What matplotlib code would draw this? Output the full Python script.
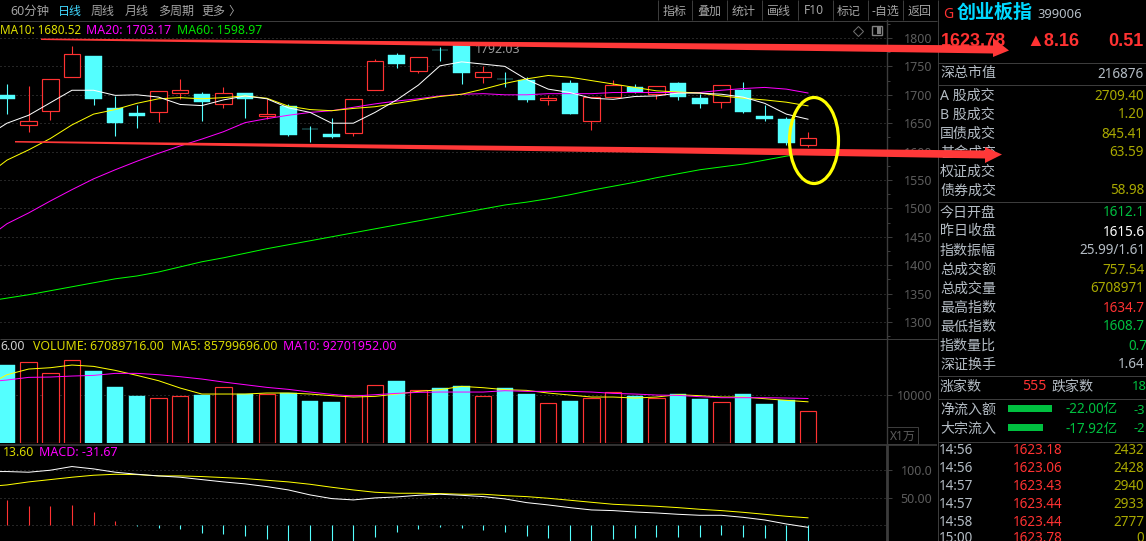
import matplotlib
matplotlib.use("Agg")
import matplotlib.pyplot as plt
from matplotlib.patches import Polygon, Ellipse, Rectangle
from matplotlib.ticker import MultipleLocator
import numpy as np

plt.rcParams['font.family'] = ['Noto Sans', 'Noto Sans CJK SC', 'DejaVu Sans']

# ---- data ----
opens  = [1700,1646,1672,1732,1768,1677,1668,1670,1704,1701,1683,1703,1662,1680,1640,1631,1632,1709,1770,1742,1779,1791,1732,1728,1726,1691,1721,1654,1696,1714,1701,1721,1694,1688,1708,1663,1657,1612.17]
highs  = [1719,1715,1727,1786,1768,1698,1682,1706,1728,1705,1714,1703,1693,1684,1645,1659,1692,1763,1774,1766,1784,1792.03,1751,1740,1731,1700,1726,1696,1726,1719,1715,1723,1701,1718,1723,1682,1661,1634.7]
lows   = [1666,1635,1656,1732,1682,1627,1642,1652,1693,1654,1677,1659,1657,1628,1617,1624,1628,1709,1747,1738,1760,1719,1721,1714,1687,1682,1666,1638,1696,1703,1693,1691,1677,1677,1668,1654,1611,1608.7]
closes = [1693,1654,1727,1771,1693,1650,1663,1706,1708,1687,1703,1693,1667,1629,1639,1626,1692,1760,1754,1766,1778,1739,1740,1727,1691,1694,1666,1696,1717,1705,1715,1696,1684,1718,1670,1657,1615,1623.78]
# the moving averages start one session before the first visible candle
ma5_line  = [1626,1650,1664,1686,1708,1708,1699,1700,1696,1683,1681,1691,1698,1693,1677,1669,1650,1650,1669,1691,1717,1751,1758,1754,1750,1727,1710,1704,1694,1692,1697,1698,1703,1703,1701,1696,1685,1666,1657]
ma10_line = [1556,1585,1603,1623,1647,1666,1674,1685,1693,1695,1693,1695,1698,1694,1680,1674,1672,1676,1679,1685,1691,1697,1701,1710,1720,1728,1734,1731,1725,1719,1713,1707,1705,1703,1698,1694,1691,1687,1680.52]
ma20_line = [1445,1473,1492,1513,1533,1552,1568,1583,1597,1610,1622,1635,1651,1658,1664,1669,1672,1678,1684,1689,1693,1698,1701,1702,1700,1700,1702,1702,1702,1704,1704,1704,1704,1704,1708,1711,1713,1710,1703.17]
ma60_line = [1336,1342,1348,1355,1362,1369,1376,1381,1388,1397,1406,1413,1421,1429,1436,1443,1450,1457,1464,1471,1478,1485,1492,1499,1506,1511,1517,1524,1532,1539,1546,1554,1561,1568,1573,1578,1585,1592,1598.97]
price_ticks = [1300,1350,1400,1450,1500,1550,1600,1650,1700,1750,1800]

volumes = [16309,16864,14574,17281,15060,11729,9855,9369,9855,10063,11659,10202,10202,10410,8814,8606,9994,12076,12978,11035,11520,11937,9785,11520,10271,8328,8814,9369,10618,9785,9369,10271,9230,8536,10271,8189,9022,6709]
vol_ma5  = [11798,14227,15407,15684,16240,15962,15129,14088,12978,11451,10202,10202,10202,10410,10410,10202,9855,9577,9716,10202,10757,11104,11798,11520,11104,10965,10410,9994,9577,9577,9369,9577,10063,9855,9577,9577,9230,8883,8580]
vol_ma10 = [12700,13117,13672,13741,13949,14088,14505,14505,14227,13811,13325,12700,12145,11590,11173,10618,10132,9785,10063,10341,10549,10618,10618,10618,10896,10757,10757,10757,10618,10341,10202,9994,9924,9647,9438,9438,9438,9369,9270]

dif = [97.6,97.6,96.4,100,106.7,102.4,96.4,92.7,89.7,87.3,83,78.8,75.2,70.3,64.2,55.2,48.5,46.1,49.7,51.5,54.5,56.4,54.5,52.1,47.9,41.2,37,32.1,27.9,26.7,24.2,22.4,20,18.2,18.2,14.5,9.7,2.4,-3.6]
dea = [70,73.3,78.8,83,87.3,90.9,92.7,92.1,89.7,89.7,88.5,86.7,84.8,81.8,78.8,74.5,69.1,64.2,60,58.2,58.2,57.6,56.4,56.4,53.9,52.1,49.1,45.5,41.8,38.2,36.4,34.5,32.1,29.1,26.7,23.6,20,16.4,13.6]
macd = [46,35,35,37,24,8,-2,-5,-7,-14,-16,-19,-25,-30,-31,-33,-35,-21,-12,-7,-3,-5,-8,-12,-19,-23,-29,-30,-25,-23,-21,-21,-21,-18,-21,-23,-31,-31.67]

left_rows = [("深总市值",73,"216876",1097,'grey'),("A 股成交",95,"2709.40",1094,'olive'),("B 股成交",114,"1.20",1118,'olive'),
    ("国债成交",133,"845.41",1101,'olive'),("基金成交",152,"63.59",1109,'olive'),("权证成交",171,"",1110,'olive'),
    ("债券成交",190,"58.98",1110,'olive'),("今日开盘",212,"1612.1",1103,'green'),("昨日收盘",231,"1615.6",1103,'white'),
    ("指数振幅",250,"25.99/1.61",1079,'grey'),("总成交额",269,"757.54",1102,'olive'),("总成交量",288,"6708971",1090,'olive'),
    ("最高指数",307,"1634.7",1103,'red'),("最低指数",326,"1608.7",1103,'green'),("指数量比",345,"0.7",1128,'green'),("深证换手",364,"1.64",1118,'grey')]
tick_times  = ["14:56","14:56","14:57","14:57","14:58","15:00"]
tick_prices = ["1623.18","1623.06","1623.43","1623.44","1623.44","1623.78"]
tick_vols   = ["2432","2428","2940","2933","2777","0"]

# ---- styling ----
W, H = 1146, 541
BG = '#000000'; RED = '#ff3232'; CYAN = '#54ffff'; AX = '#3c3c3c'; LBL = '#5c5c5c'
YEL = '#ffff00'; MAG = '#ff00ff'; GRN = '#00ff00'
COL = {'grey':'#b4bcc4','olive':'#a8a800','green':'#00c040','white':'#ffffff','red':'#ff3232'}
px = 0.72
n = len(closes); x = np.arange(n); x_ma = np.arange(n+1) - 1
XL = (-0.323, 40.65)
BW = 0.76

fig = plt.figure(figsize=(W/100, H/100), dpi=100, facecolor=BG)

def panel(top, bottom, ylim):
    ax = fig.add_axes([0, 1-bottom/H, 887/W, (bottom-top)/H], facecolor=BG)
    ax.set_xlim(*XL); ax.set_ylim(*ylim)
    for s in ('top','left','bottom'):
        ax.spines[s].set_visible(False)
    ax.spines['right'].set_color(AX); ax.spines['right'].set_linewidth(1.0)
    ax.set_xticks([])
    ax.yaxis.tick_right()
    ax.tick_params(axis='y', which='major', length=3.6, width=px, color=AX, labelcolor=LBL, labelsize=9.0, pad=29)
    ax.tick_params(axis='y', which='minor', length=1.8, width=px, color=AX)
    return ax

def finish(ax):
    for t in ax.get_yticklabels():
        t.set_ha('right')
    ax.grid(axis='y', which='major', color='#4a4a4a', lw=px, ls=(0,(1,3)), zorder=0)
    ax.set_axisbelow(True)

def hollow_bars(ax, lo, hi, up):
    for i in x:
        if up[i]:
            ax.add_patch(Rectangle((i-BW/2, lo[i]), BW, hi[i]-lo[i], fc=BG, ec=RED, lw=0.85, zorder=3))
        else:
            ax.add_patch(Rectangle((i-BW/2, lo[i]), BW, hi[i]-lo[i], fc=CYAN, ec=CYAN, lw=0.3, zorder=3))

def ma(ax, s, c):
    ax.plot(x_ma, s, color=c, lw=0.72, zorder=4)

# price
ax1 = panel(20, 338, (1271.8, 1831.7))
ax1.set_yticks(price_ticks); ax1.yaxis.set_minor_locator(MultipleLocator(25))
finish(ax1)
up = [closes[i] >= opens[i] for i in x]
ax1.vlines(x, lows, highs, colors=[RED if u else CYAN for u in up], lw=0.8, zorder=2)
hollow_bars(ax1, np.minimum(opens, closes), np.maximum(opens, closes), up)
for s, c in ((ma60_line,GRN),(ma20_line,MAG),(ma10_line,YEL),(ma5_line,'#ffffff')):
    ma(ax1, s, c)
ax1.text(21.6, 1780.6, "1792.03", color='#9a9a9a', fontsize=8.9, va='center', zorder=5)

# volume
ax2 = panel(338, 443, (0, 21875))
ax2.set_yticks([10000]); ax2.set_yticklabels(["10000"])
finish(ax2)
hollow_bars(ax2, np.zeros(n), volumes, up)
ma(ax2, vol_ma5, YEL)
ma(ax2, vol_ma10, MAG)

# macd
ax3 = panel(446, 541, (-28.5, 144))
ax3.set_yticks([50, 100]); ax3.set_yticklabels(["50.00", "100.0"])
ax3.spines['right'].set_linewidth(2.0)
finish(ax3)
ax3.axhline(0, color='#4a4a4a', lw=px, ls=(0,(1,3)), zorder=0)
ax3.vlines(x, 0, macd, colors=[RED if m > 0 else CYAN for m in macd], lw=0.8, zorder=3)
ma(ax3, dea, YEL)
ma(ax3, dif, '#ffffff')

# overlay in pixels
ov = fig.add_axes([0, 0, 1, 1], zorder=20); ov.set_xlim(0, W); ov.set_ylim(H, 0); ov.axis('off'); ov.patch.set_alpha(0)

def T(xp, yp, s, c, size=12, weight='normal', **kw):
    ov.text(xp, yp+1, s, color=c, fontsize=size*0.72, fontweight=weight, va='center', ha=kw.pop('ha','left'), **kw)

def L(x0, y0, x1, y1, c=AX, lw=px):
    ov.plot([x0, x1], [y0, y1], color=c, lw=lw, solid_capstyle='butt')

# frame lines
L(0, 20.5, 937, 20.5); L(0, 338.5, 937, 338.5); L(0, 444.5, 937, 444.5, lw=1.2)
L(937.5, 0, 937.5, H)
for yy in (62.5, 84.5, 201.5, 375.5, 398.5, 441.5):
    L(938, yy, W, yy)
for xx in (657, 691, 726, 761, 797, 832, 867, 902):
    L(xx+.5, 0, xx+.5, 20)
ov.add_patch(Rectangle((887, 427), 31, 17, fc='none', ec=AX, lw=px))
T(890, 435, "X1万", LBL, 12)

# toolbar
TB = '#a4a4a4'
T(10, 10, "60分钟", TB, 12.4)
T(58, 10, "日线", '#40d8ff', 12)
for xx, s in ((91,"周线"),(125,"月线"),(158,"多周期"),(201,"更多"),(228,"〉")):
    T(xx, 10, s, TB, 12)
for xx, s in ((663,"指标"),(697,"叠加"),(732,"统计"),(767,"画线"),(804,"F10"),(837,"标记"),(871,"-自选"),(908,"返回")):
    T(xx, 10, s, TB, 12)
ov.plot([858], [31], marker='D', ms=5.2, mfc='none', mec='#707070', mew=px)
ov.add_patch(Rectangle((872, 26), 10, 9, fc='none', ec='#808080', lw=1.0))
ov.add_patch(Rectangle((877, 27), 4, 7, fc='#808080', ec='none'))

# headers
T(0, 29, "MA10: 1680.52", '#e0e000', 11.7)
T(86, 29, "MA20: 1703.17", MAG, 12.3)
T(177, 29, "MA60: 1598.97", '#00e000', 12.3)
T(0, 346, "6.00", '#d0d0d0', 12.3)
T(33, 346, "VOLUME: 67089716.00", '#d8d800', 12.3)
T(171, 346, "MA5: 85799696.00", '#d8d800', 12.3)
T(283, 346, "MA10: 92701952.00", MAG, 12.3)
T(3, 452, "13.60", '#d8d800', 12.3)
T(39, 452, "MACD: -31.67", MAG, 12.5)

# side panel
BOLD = ['Liberation Sans', 'DejaVu Sans']
T(943, 13, "G", RED, 14)
T(957, 12, "创业板指", '#00d8ff', 19, weight='bold')
T(1037, 14, "399006", '#b4bcc4', 13)
T(941, 40, "1623.78", RED, 18, weight='bold', family=BOLD)
T(1026, 40, "▲8.16", RED, 18, weight='bold', family=BOLD)
T(1108, 40, "0.51", RED, 18, weight='bold', family=BOLD)
for lab, yy, val, xv, col in left_rows:
    T(940, yy, lab, COL['grey'], 14)
    if val:
        T(xv, yy, val, COL[col], 13.5)
T(940, 386, "涨家数", COL['grey'], 14); T(1022, 386, "555", RED, 14)
T(1052, 386, "跌家数", COL['grey'], 14); T(1132, 386, "18", COL['green'], 13)
T(940, 409, "净流入额", COL['grey'], 14); T(940, 428, "大宗流入", COL['grey'], 14)
ov.add_patch(Rectangle((1008, 405), 44, 7, fc='#00c040', ec='none'))
ov.add_patch(Rectangle((1008, 424), 35, 7, fc='#00c040', ec='none'))
T(1065, 409, "-22.00亿", COL['green'], 13.5); T(1134, 409, "-3", COL['green'], 13)
T(1065, 428, "-17.92亿", COL['green'], 13.5); T(1134, 428, "-2", COL['green'], 13)
for yy, t, p, v in zip((450, 468, 486, 504, 522, 537), tick_times, tick_prices, tick_vols):
    T(939, yy, t, COL['grey'], 13.5); T(1013, yy, p, RED, 13.5)
    T(1144, yy, v, COL['olive'], 13.5, ha='right')

# hand-drawn annotations
ARW = '#ff3838'
ov.add_patch(Polygon([(41,38.5),(993,45.5),(993,38),(1009,50.5),(993,57),(993,53.5),(41,40)], fc=ARW, ec='none', zorder=30))
ov.add_patch(Polygon([(15,141),(985,150.5),(985,147),(1002,154.5),(985,163),(985,158.5),(15,142.5)], fc=ARW, ec='none', zorder=30))
ov.add_patch(Ellipse((814, 140.5), 49, 86, fc='none', ec='#ffff00', lw=2.3, zorder=31))

fig.savefig("out.png", dpi=100, facecolor=BG)
